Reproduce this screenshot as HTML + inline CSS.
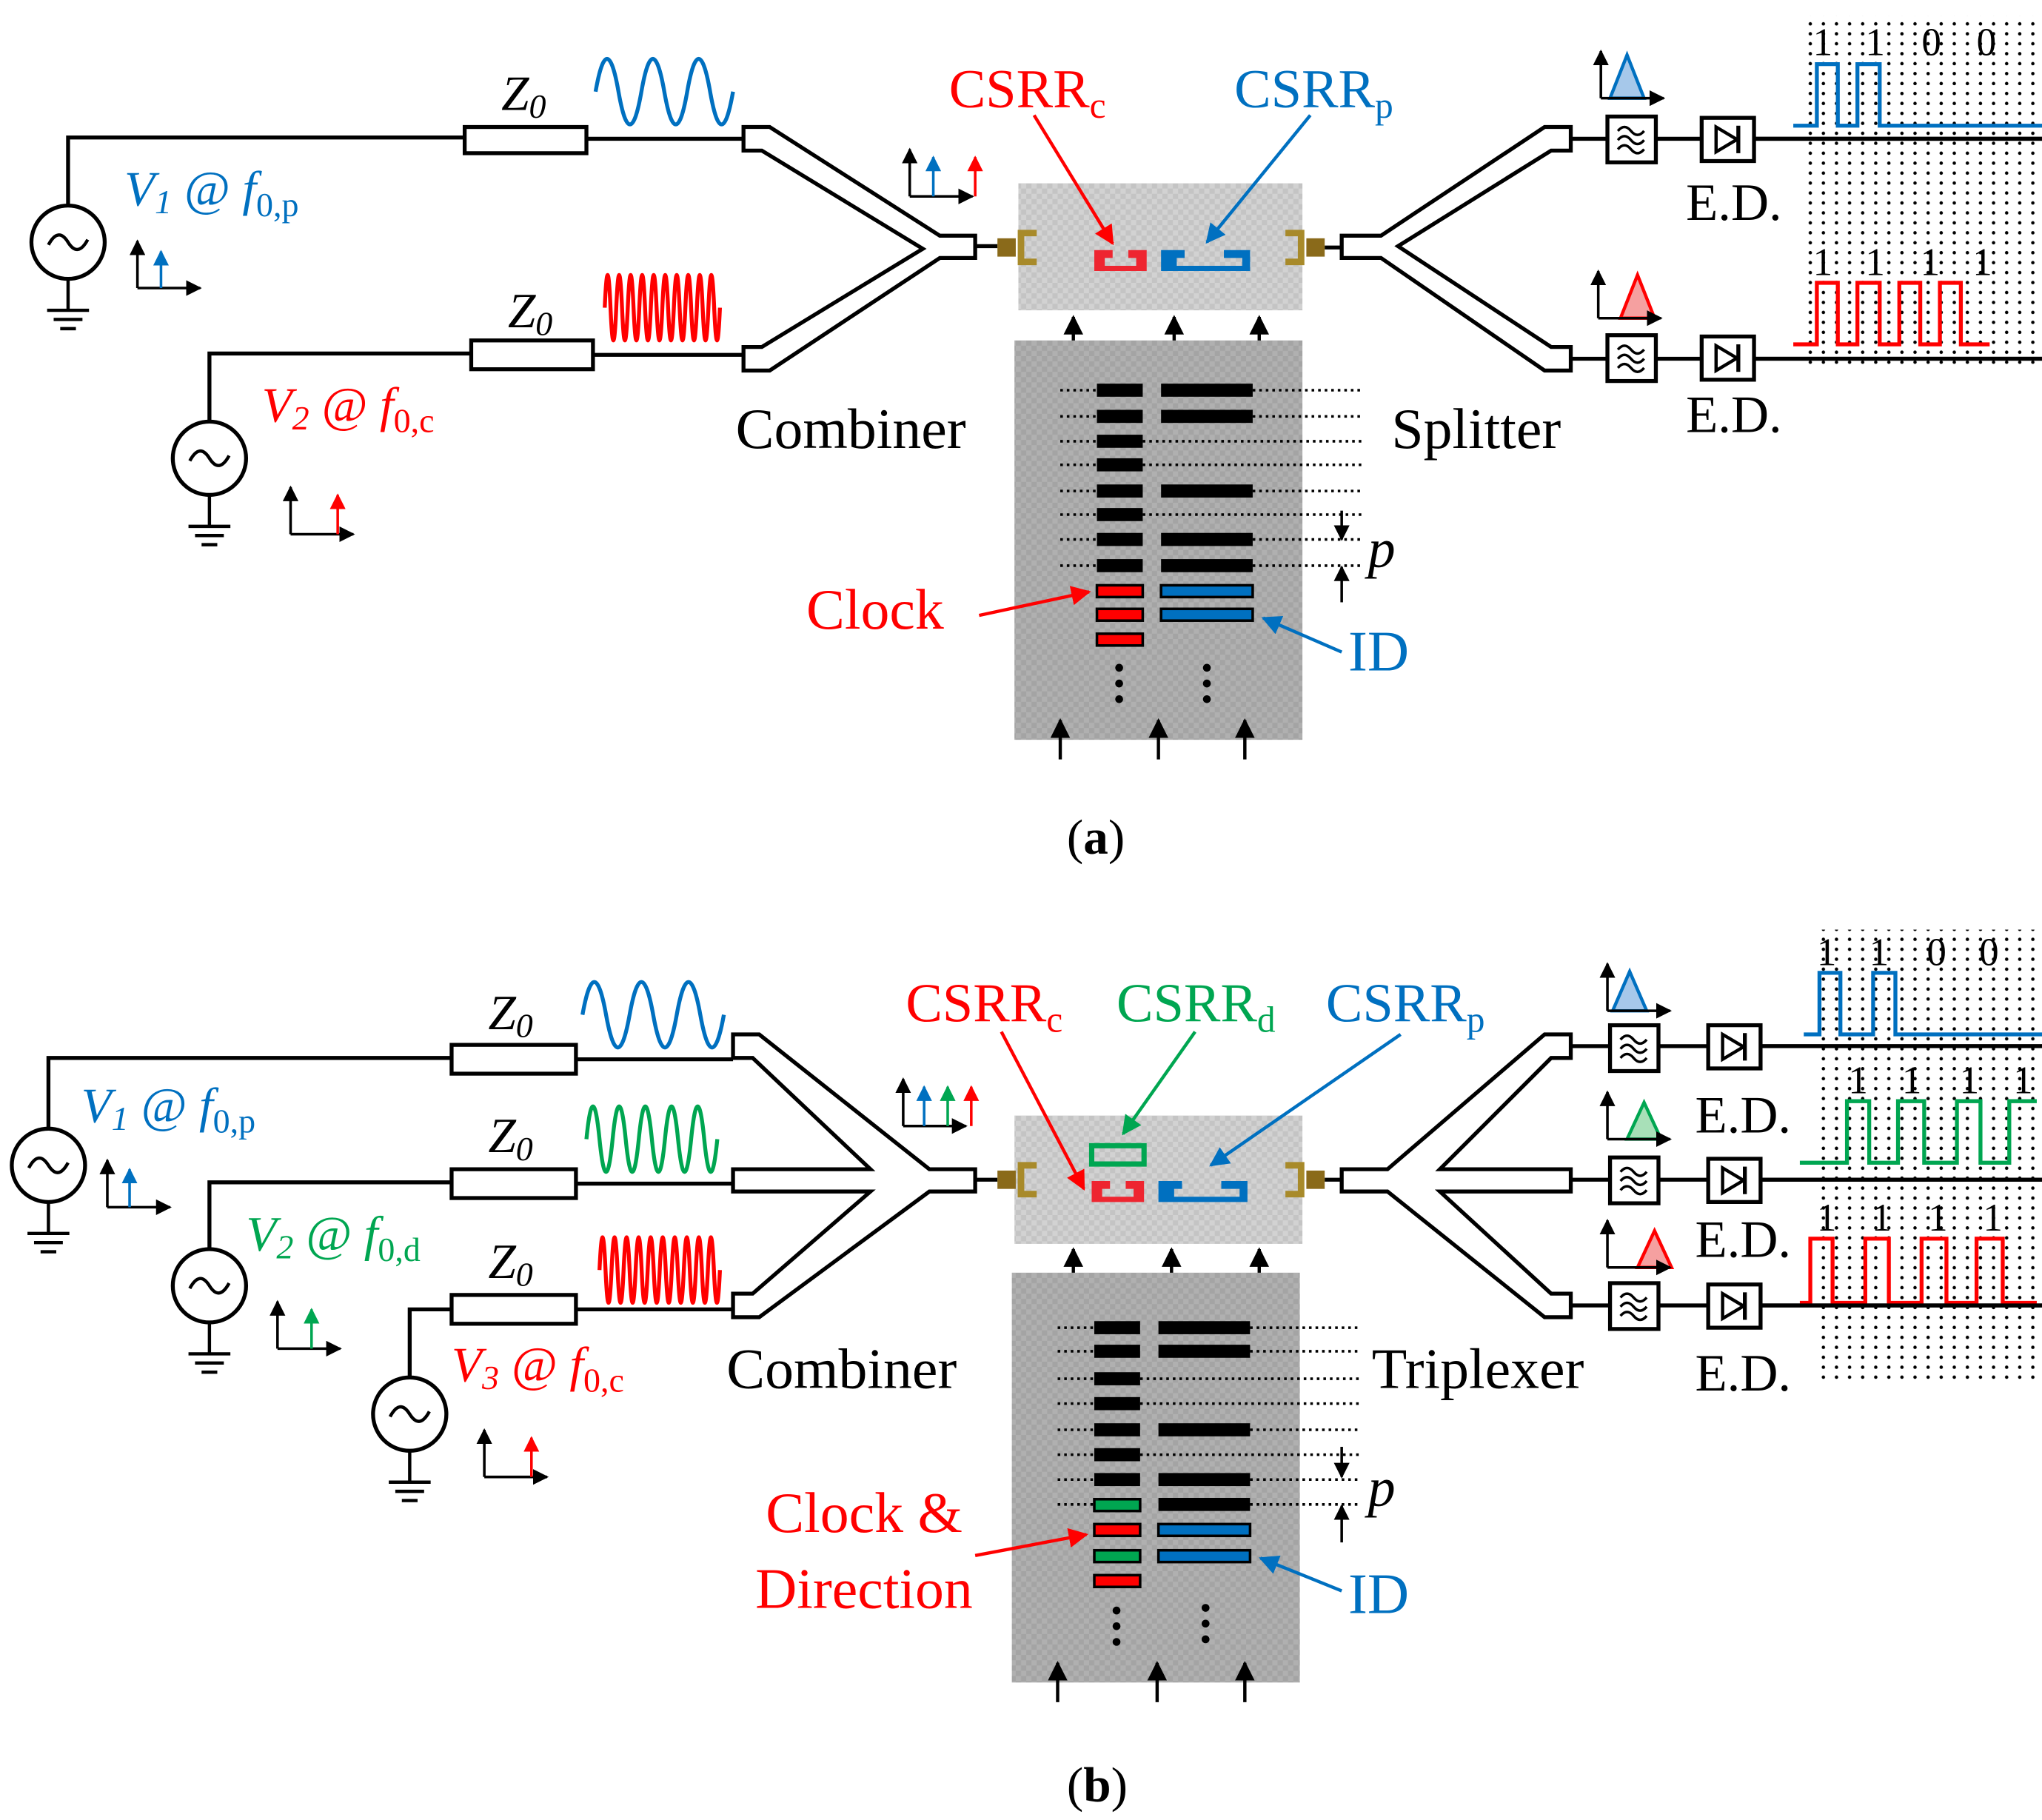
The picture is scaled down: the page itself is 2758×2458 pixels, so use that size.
<!DOCTYPE html>
<html><head><meta charset="utf-8"><style>
html,body{margin:0;padding:0;background:#fff;}
svg{display:block;}
text{font-family:"Liberation Serif",serif;}
</style></head><body>
<svg width="2758" height="2458" viewBox="0 0 1560 1390" preserveAspectRatio="none" xmlns="http://www.w3.org/2000/svg">
<defs>
<pattern id="dots" x="0" y="0" width="10" height="7.6" patternUnits="userSpaceOnUse"><circle cx="3" cy="3" r="1.3" fill="#000"/></pattern>
<pattern id="chk1" width="8" height="8" patternUnits="userSpaceOnUse"><rect width="8" height="8" fill="#c4c4c4"/><rect width="4" height="4" fill="#d2d2d2"/><rect x="4" y="4" width="4" height="4" fill="#d2d2d2"/></pattern>
<pattern id="chk2" width="8" height="8" patternUnits="userSpaceOnUse"><rect width="8" height="8" fill="#a4a4a4"/><rect width="4" height="4" fill="#b0b0b0"/><rect x="4" y="4" width="4" height="4" fill="#b0b0b0"/></pattern>
<marker id="ak" viewBox="0 0 10 10" refX="9" refY="5" markerWidth="6" markerHeight="6" orient="auto"><path d="M0 0L10 5L0 10z" fill="#000"/></marker>
<marker id="ar" viewBox="0 0 10 10" refX="9" refY="5" markerWidth="6" markerHeight="6" orient="auto"><path d="M0 0L10 5L0 10z" fill="#f00"/></marker>
<marker id="ab" viewBox="0 0 10 10" refX="9" refY="5" markerWidth="6" markerHeight="6" orient="auto"><path d="M0 0L10 5L0 10z" fill="#0070c0"/></marker>
<marker id="ag" viewBox="0 0 10 10" refX="9" refY="5" markerWidth="6" markerHeight="6" orient="auto"><path d="M0 0L10 5L0 10z" fill="#00a651"/></marker>
<g id="src"><circle cx="0" cy="0" r="28" fill="#fff" stroke="#000" stroke-width="3"/><path d="M-15 2 q7.5 -14 15 -2 t15 -2" fill="none" stroke="#000" stroke-width="2.5"/><path d="M0 28 V52 M-16 52 H16 M-11 59 H11 M-6 66 H6" stroke="#000" stroke-width="2.5"/></g>
<g id="ax"><path d="M0 0 V-36" stroke="#000" stroke-width="2" marker-end="url(#ak)"/><path d="M0 0 H48" stroke="#000" stroke-width="2" marker-end="url(#ak)"/></g>
<g id="filt"><rect x="0" y="0" width="37" height="35" fill="#fff" stroke="#000" stroke-width="3"/><path d="M8 11 q5 -6 10 0 t10 0 M8 18 q5 -6 10 0 t10 0 M8 25 q5 -6 10 0 t10 0" fill="none" stroke="#000" stroke-width="2"/></g>
<g id="diode"><rect x="0" y="0" width="40" height="33" fill="#fff" stroke="#000" stroke-width="3"/><path d="M11 7 L27 16.5 L11 26z" fill="none" stroke="#000" stroke-width="2.5"/><path d="M28 6 V27" stroke="#000" stroke-width="3"/></g>
<g id="conL"><path d="M792 178 H780 V200 H792" fill="none" stroke="#a88a2a" stroke-width="5"/><rect x="762" y="182" width="14" height="14" fill="#8a6a1a"/></g>
<g id="conR"><path d="M982 178 H994 V200 H982" fill="none" stroke="#a88a2a" stroke-width="5"/><rect x="998" y="182" width="14" height="14" fill="#8a6a1a"/></g>
</defs>

<!-- ============ PANEL A ============ -->
<g stroke="#000" stroke-width="3" fill="none">
<path d="M52 157 V105 H355 M448 106 H568"/>
<rect x="355" y="97" width="93" height="20" fill="#fff"/>
<path d="M160 322 V270 H360 M453 271 H568"/>
<rect x="360" y="260" width="93" height="22" fill="#fff"/>
<path d="M568 97 H588 L718 180 H745 V197 H718 L588 283 H568 V265 H582 L705 190 L582 115 H568 Z"/>
<path d="M745 188 H762"/>
<path d="M1012 189 H1025"/>
<path d="M1200 97 H1180 L1055 180 H1025 V197 H1055 L1180 283 H1200 V265 H1185 L1068 188 L1185 115 H1200 Z"/>
<path d="M1200 106 H1228 M1265 106 H1300 M1340 106 H1560"/>
<path d="M1200 274 H1228 M1265 274 H1300 M1340 274 H1560"/>
</g>
<use href="#src" x="52" y="185"/>
<use href="#src" x="160" y="350"/>
<text x="383" y="84" font-size="38" font-style="italic">Z<tspan font-size="26" dy="6">0</tspan></text>
<text x="388" y="250" font-size="38" font-style="italic">Z<tspan font-size="26" dy="6">0</tspan></text>
<path d="M455 70 q8.75 -50 17.5 0 t17.5 0 t17.5 0 t17.5 0 t17.5 0 t17.5 0" fill="none" stroke="#0070c0" stroke-width="3"/>
<path d="M462 235 q2.2 -50 4.4 0 t4.4 0 t4.4 0 t4.4 0 t4.4 0 t4.4 0 t4.4 0 t4.4 0 t4.4 0 t4.4 0 t4.4 0 t4.4 0 t4.4 0 t4.4 0 t4.4 0 t4.4 0 t4.4 0 t4.4 0 t4.4 0 t4.4 0" fill="none" stroke="#f00" stroke-width="3"/>
<text x="95" y="157" font-size="38" fill="#0070c0" font-style="italic">V<tspan font-size="26" dy="6">1</tspan><tspan dy="-6"> @ f</tspan><tspan font-size="26" dy="8" font-style="normal">0,p</tspan></text>
<text x="200" y="322" font-size="38" fill="#f00" font-style="italic">V<tspan font-size="26" dy="6">2</tspan><tspan dy="-6"> @  f</tspan><tspan font-size="26" dy="8" font-style="normal">0,c</tspan></text>
<use href="#ax" x="105" y="220"/><path d="M123 220 V192" stroke="#0070c0" stroke-width="2" marker-end="url(#ab)"/>
<use href="#ax" x="222" y="408"/><path d="M258 408 V378" stroke="#f00" stroke-width="2" marker-end="url(#ar)"/>
<text x="562" y="342" font-size="44">Combiner</text>
<text x="1063" y="342" font-size="44">Splitter</text>
<rect x="778" y="140" width="217" height="97" fill="url(#chk1)"/>
<use href="#conL"/><use href="#conR"/>
<path d="M836 191 h14 v6 h-6 v6 h24 v-6 h-6 v-6 h14 v16 h-40z" fill="#ee2530"/>
<path d="M887 191 h18 v6 h-6 v6 h50 v-6 h-14 v-6 h20 v16 h-68z" fill="#0070c0"/>
<use href="#ax" x="695" y="150"/>
<path d="M713 150 V120" stroke="#0070c0" stroke-width="2" marker-end="url(#ab)"/>
<path d="M745 150 V120" stroke="#f00" stroke-width="2" marker-end="url(#ar)"/>
<text x="725" y="82" font-size="42" fill="#f00">CSRR<tspan font-size="28" dy="8">c</tspan></text>
<text x="943" y="82" font-size="42" fill="#0070c0">CSRR<tspan font-size="28" dy="8">p</tspan></text>
<path d="M790 88 L850 186" stroke="#f00" stroke-width="2.5" marker-end="url(#ar)"/>
<path d="M1001 88 L922 185" stroke="#0070c0" stroke-width="2.5" marker-end="url(#ab)"/>
<g stroke="#000" stroke-width="2.5">
<path d="M820 270 V242" marker-end="url(#ak)"/><path d="M897 270 V242" marker-end="url(#ak)"/><path d="M962 270 V242" marker-end="url(#ak)"/>
</g>
<rect x="775" y="260" width="220" height="305" fill="url(#chk2)"/>
<g stroke="#000" stroke-width="2.5">
<path d="M810 580 V550" marker-end="url(#ak)"/><path d="M885 580 V550" marker-end="url(#ak)"/><path d="M951 580 V550" marker-end="url(#ak)"/>
</g>
<g stroke="#000" stroke-width="2" stroke-dasharray="2 3">
<path d="M810 298 H838 M957 298 H1040 M810 318 H838 M957 318 H1040 M810 337 H838 M873 337 H1040 M810 355 H838 M873 355 H1040 M810 375 H838 M957 375 H1040 M810 393 H838 M873 393 H1040 M810 412 H838 M957 412 H1040 M810 432 H838 M957 432 H1040"/>
</g>
<g fill="#000">
<rect x="838" y="293" width="35" height="10"/><rect x="838" y="313" width="35" height="10"/><rect x="838" y="332" width="35" height="10"/><rect x="838" y="350" width="35" height="10"/><rect x="838" y="370" width="35" height="10"/><rect x="838" y="388" width="35" height="10"/><rect x="838" y="407" width="35" height="10"/><rect x="838" y="427" width="35" height="10"/>
<rect x="887" y="293" width="70" height="10"/><rect x="887" y="313" width="70" height="10"/><rect x="887" y="370" width="70" height="10"/><rect x="887" y="407" width="70" height="10"/><rect x="887" y="427" width="70" height="10"/>
<circle cx="855" cy="510" r="3"/><circle cx="855" cy="522" r="3"/><circle cx="855" cy="534" r="3"/>
<circle cx="922" cy="510" r="3"/><circle cx="922" cy="522" r="3"/><circle cx="922" cy="534" r="3"/>
</g>
<g stroke="#000" stroke-width="2"><rect x="838" y="447" width="35" height="9" fill="#f00"/><rect x="838" y="465" width="35" height="9" fill="#f00"/><rect x="838" y="484" width="35" height="9" fill="#f00"/>
<rect x="887" y="447" width="70" height="9" fill="#0070c0"/><rect x="887" y="465" width="70" height="9" fill="#0070c0"/></g>
<path d="M1025 390 V412" stroke="#000" stroke-width="2" marker-end="url(#ak)"/>
<path d="M1025 460 V433" stroke="#000" stroke-width="2" marker-end="url(#ak)"/>
<text x="1045" y="433" font-size="42" font-style="italic">p</text>
<text x="616" y="480" font-size="44" fill="#f00">Clock</text>
<path d="M748 470 L832 452" stroke="#f00" stroke-width="2.5" marker-end="url(#ar)"/>
<text x="1030" y="512" font-size="44" fill="#0070c0">ID</text>
<path d="M1025 498 L965 472" stroke="#0070c0" stroke-width="2.5" marker-end="url(#ab)"/>
<use href="#filt" x="1228" y="89"/><use href="#diode" x="1300" y="90"/>
<use href="#filt" x="1228" y="256"/><use href="#diode" x="1300" y="257"/>
<path d="M1230 75 L1243 42 L1256 75 Z" fill="#a6c8ea" stroke="#0070c0" stroke-width="2.5"/>
<use href="#ax" x="1223" y="75"/>
<path d="M1238 243 L1251 210 L1264 243 Z" fill="#f5a0a0" stroke="#f00" stroke-width="2.5"/>
<use href="#ax" x="1221" y="243"/>
<text x="1288" y="168" font-size="40">E.D.</text>
<text x="1288" y="330" font-size="40">E.D.</text>
<rect x="1380" y="12" width="180" height="270" fill="url(#dots)"/>
<path d="M1370 96 H1388 V49 H1404 V96 H1419 V49 H1436 V96 H1560" fill="none" stroke="#0070c0" stroke-width="3"/>
<path d="M1370 263 H1388 V216 H1404 V263 H1419 V216 H1436 V263 H1451 V216 H1467 V263 H1482 V216 H1498 V263 H1520" fill="none" stroke="#f00" stroke-width="3"/>
<path d="M1340 274 H1560 M1340 106 H1560" stroke="#000" stroke-width="3"/>
<g font-size="30"><text x="1385" y="42">1</text><text x="1425" y="42">1</text><text x="1468" y="42">0</text><text x="1510" y="42">0</text>
<text x="1385" y="210">1</text><text x="1425" y="210">1</text><text x="1467" y="210">1</text><text x="1507" y="210">1</text></g>
<text x="815" y="652" font-size="38">(<tspan font-weight="bold">a</tspan>)</text>

<!-- ============ PANEL B ============ -->
<g stroke="#000" stroke-width="3" fill="none">
<path d="M37 862 V808 H345 M440 809 H560"/>
<rect x="345" y="798" width="95" height="22" fill="#fff"/>
<path d="M160 954 V903 H345 M440 904 H560"/>
<rect x="345" y="893" width="95" height="22" fill="#fff"/>
<path d="M313 1052 V1000 H345 M440 1000 H560"/>
<rect x="345" y="989" width="95" height="22" fill="#fff"/>
<path d="M560 790 H580 L710 893 H745 V910 H710 L580 1006 H560 V988 H575 L665 910 H560 V893 H665 L575 808 H560 Z"/>
<path d="M745 901 H762"/>
<path d="M1012 901 H1025"/>
<path d="M1200 790 H1180 L1060 893 H1025 V910 H1060 L1180 1006 H1200 V988 H1185 L1100 910 H1200 V893 H1100 L1185 808 H1200 Z"/>
<path d="M1200 799 H1230 M1267 799 H1305 M1345 799 H1560"/>
<path d="M1200 901 H1230 M1267 901 H1305 M1345 901 H1560"/>
<path d="M1200 997 H1230 M1267 997 H1305 M1345 997 H1560"/>
</g>
<use href="#src" x="37" y="890"/>
<use href="#src" x="160" y="982"/>
<use href="#src" x="313" y="1080"/>
<text x="373" y="786" font-size="38" font-style="italic">Z<tspan font-size="26" dy="6">0</tspan></text>
<text x="373" y="880" font-size="38" font-style="italic">Z<tspan font-size="26" dy="6">0</tspan></text>
<text x="373" y="976" font-size="38" font-style="italic">Z<tspan font-size="26" dy="6">0</tspan></text>
<path d="M445 775 q9 -50 18 0 t18 0 t18 0 t18 0 t18 0 t18 0" fill="none" stroke="#0070c0" stroke-width="3"/>
<path d="M448 870 q5 -50 10 0 t10 0 t10 0 t10 0 t10 0 t10 0 t10 0 t10 0 t10 0 t10 0" fill="none" stroke="#00a651" stroke-width="3"/>
<path d="M458 970 q2.3 -50 4.6 0 t4.6 0 t4.6 0 t4.6 0 t4.6 0 t4.6 0 t4.6 0 t4.6 0 t4.6 0 t4.6 0 t4.6 0 t4.6 0 t4.6 0 t4.6 0 t4.6 0 t4.6 0 t4.6 0 t4.6 0 t4.6 0 t4.6 0" fill="none" stroke="#f00" stroke-width="3"/>
<text x="62" y="857" font-size="38" fill="#0070c0" font-style="italic">V<tspan font-size="26" dy="6">1</tspan><tspan dy="-6"> @ f</tspan><tspan font-size="26" dy="8" font-style="normal">0,p</tspan></text>
<text x="188" y="955" font-size="38" fill="#00a651" font-style="italic">V<tspan font-size="26" dy="6">2</tspan><tspan dy="-6"> @ f</tspan><tspan font-size="26" dy="8" font-style="normal">0,d</tspan></text>
<text x="345" y="1055" font-size="38" fill="#f00" font-style="italic">V<tspan font-size="26" dy="6">3</tspan><tspan dy="-6"> @  f</tspan><tspan font-size="26" dy="8" font-style="normal">0,c</tspan></text>
<use href="#ax" x="82" y="922"/><path d="M99 922 V893" stroke="#0070c0" stroke-width="2" marker-end="url(#ab)"/>
<use href="#ax" x="212" y="1030"/><path d="M238 1030 V1000" stroke="#00a651" stroke-width="2" marker-end="url(#ag)"/>
<use href="#ax" x="370" y="1128"/><path d="M406 1128 V1098" stroke="#f00" stroke-width="2" marker-end="url(#ar)"/>
<text x="555" y="1060" font-size="44">Combiner</text>
<text x="1048" y="1060" font-size="44">Triplexer</text>
<rect x="775" y="852" width="220" height="98" fill="url(#chk1)"/>
<g transform="translate(0,712)"><use href="#conL"/><use href="#conR"/></g>
<path d="M834 875 h40 v14 h-40z" fill="none" stroke="#00a651" stroke-width="4"/>
<path d="M834 902 h14 v6 h-6 v6 h24 v-6 h-6 v-6 h14 v16 h-40z" fill="#ee2530"/>
<path d="M885 902 h18 v6 h-6 v6 h50 v-6 h-14 v-6 h20 v16 h-68z" fill="#0070c0"/>
<use href="#ax" x="690" y="860"/>
<path d="M706 860 V830" stroke="#0070c0" stroke-width="2" marker-end="url(#ab)"/>
<path d="M724 860 V830" stroke="#00a651" stroke-width="2" marker-end="url(#ag)"/>
<path d="M742 860 V830" stroke="#f00" stroke-width="2" marker-end="url(#ar)"/>
<text x="692" y="780" font-size="42" fill="#f00">CSRR<tspan font-size="28" dy="8">c</tspan></text>
<text x="853" y="780" font-size="42" fill="#00a651">CSRR<tspan font-size="28" dy="8">d</tspan></text>
<text x="1013" y="780" font-size="42" fill="#0070c0">CSRR<tspan font-size="28" dy="8">p</tspan></text>
<path d="M765 788 L828 908" stroke="#f00" stroke-width="2.5" marker-end="url(#ar)"/>
<path d="M913 788 L858 866" stroke="#00a651" stroke-width="2.5" marker-end="url(#ag)"/>
<path d="M1070 790 L925 890" stroke="#0070c0" stroke-width="2.5" marker-end="url(#ab)"/>
<g stroke="#000" stroke-width="2.5">
<path d="M820 982 V954" marker-end="url(#ak)"/><path d="M895 982 V954" marker-end="url(#ak)"/><path d="M962 982 V954" marker-end="url(#ak)"/>
</g>
<rect x="773" y="972" width="220" height="313" fill="url(#chk2)"/>
<g stroke="#000" stroke-width="2.5">
<path d="M808 1300 V1270" marker-end="url(#ak)"/><path d="M884 1300 V1270" marker-end="url(#ak)"/><path d="M951 1300 V1270" marker-end="url(#ak)"/>
</g>
<g stroke="#000" stroke-width="2" stroke-dasharray="2 3">
<path d="M808 1014 H836 M955 1014 H1040 M808 1032 H836 M955 1032 H1040 M808 1053 H836 M871 1053 H1040 M808 1072 H836 M871 1072 H1040 M808 1092 H836 M955 1092 H1040 M808 1111 H836 M871 1111 H1040 M808 1130 H836 M955 1130 H1040 M808 1149 H836 M955 1149 H1040"/>
</g>
<g fill="#000">
<rect x="836" y="1009" width="35" height="10"/><rect x="836" y="1027" width="35" height="10"/><rect x="836" y="1048" width="35" height="10"/><rect x="836" y="1067" width="35" height="10"/><rect x="836" y="1087" width="35" height="10"/><rect x="836" y="1106" width="35" height="10"/><rect x="836" y="1125" width="35" height="10"/>
<rect x="885" y="1009" width="70" height="10"/><rect x="885" y="1027" width="70" height="10"/><rect x="885" y="1087" width="70" height="10"/><rect x="885" y="1125" width="70" height="10"/><rect x="885" y="1144" width="70" height="10"/>
<circle cx="853" cy="1230" r="3"/><circle cx="853" cy="1242" r="3"/><circle cx="853" cy="1254" r="3"/>
<circle cx="921" cy="1228" r="3"/><circle cx="921" cy="1240" r="3"/><circle cx="921" cy="1252" r="3"/>
</g>
<g stroke="#000" stroke-width="2"><rect x="836" y="1145" width="35" height="9" fill="#00a651"/><rect x="836" y="1164" width="35" height="9" fill="#f00"/><rect x="836" y="1184" width="35" height="9" fill="#00a651"/><rect x="836" y="1203" width="35" height="9" fill="#f00"/>
<rect x="885" y="1164" width="70" height="9" fill="#0070c0"/><rect x="885" y="1184" width="70" height="9" fill="#0070c0"/></g>
<path d="M1025 1105 V1128" stroke="#000" stroke-width="2" marker-end="url(#ak)"/>
<path d="M1025 1178 V1150" stroke="#000" stroke-width="2" marker-end="url(#ak)"/>
<text x="1045" y="1150" font-size="42" font-style="italic">p</text>
<text x="585" y="1170" font-size="44" fill="#f00">Clock &amp;</text>
<text x="577" y="1228" font-size="44" fill="#f00">Direction</text>
<path d="M745 1188 L830 1172" stroke="#f00" stroke-width="2.5" marker-end="url(#ar)"/>
<text x="1030" y="1232" font-size="44" fill="#0070c0">ID</text>
<path d="M1025 1215 L963 1190" stroke="#0070c0" stroke-width="2.5" marker-end="url(#ab)"/>
<use href="#filt" x="1230" y="783"/><use href="#diode" x="1305" y="783"/>
<use href="#filt" x="1230" y="884"/><use href="#diode" x="1305" y="885"/>
<use href="#filt" x="1230" y="980"/><use href="#diode" x="1305" y="981"/>
<path d="M1232 772 L1245 742 L1258 772 Z" fill="#a6c8ea" stroke="#0070c0" stroke-width="2.5"/>
<use href="#ax" x="1228" y="772"/>
<path d="M1243 870 L1256 842 L1269 870 Z" fill="#a8e0b8" stroke="#00a651" stroke-width="2.5"/>
<use href="#ax" x="1228" y="870"/>
<path d="M1251 968 L1264 940 L1277 968 Z" fill="#f5a0a0" stroke="#f00" stroke-width="2.5"/>
<use href="#ax" x="1228" y="968"/>
<text x="1295" y="865" font-size="40">E.D.</text>
<text x="1295" y="960" font-size="40">E.D.</text>
<text x="1295" y="1062" font-size="40">E.D.</text>
<rect x="1385" y="710" width="175" height="345" fill="url(#dots)"/>
<path d="M1378 790 H1390 V743 H1406 V790 H1431 V743 H1448 V790 H1560" fill="none" stroke="#0070c0" stroke-width="3"/>
<path d="M1375 888 H1411 V841 H1428 V888 H1450 V841 H1470 V888 H1495 V841 H1513 V888 H1535 V841 H1556" fill="none" stroke="#00a651" stroke-width="3"/>
<path d="M1375 995 H1383 V946 H1400 V995 H1425 V946 H1443 V995 H1468 V946 H1487 V995 H1510 V946 H1530 V995 H1556" fill="none" stroke="#f00" stroke-width="3"/>
<path d="M1345 799 H1560 M1345 901 H1560 M1345 997 H1560" stroke="#000" stroke-width="3"/>
<g font-size="30"><text x="1388" y="737">1</text><text x="1428" y="737">1</text><text x="1472" y="737">0</text><text x="1512" y="737">0</text>
<text x="1412" y="835">1</text><text x="1453" y="835">1</text><text x="1497" y="835">1</text><text x="1538" y="835">1</text>
<text x="1388" y="940">1</text><text x="1430" y="940">1</text><text x="1473" y="940">1</text><text x="1515" y="940">1</text></g>
<text x="815" y="1376" font-size="38">(<tspan font-weight="bold">b</tspan>)</text>
</svg>
</body></html>
